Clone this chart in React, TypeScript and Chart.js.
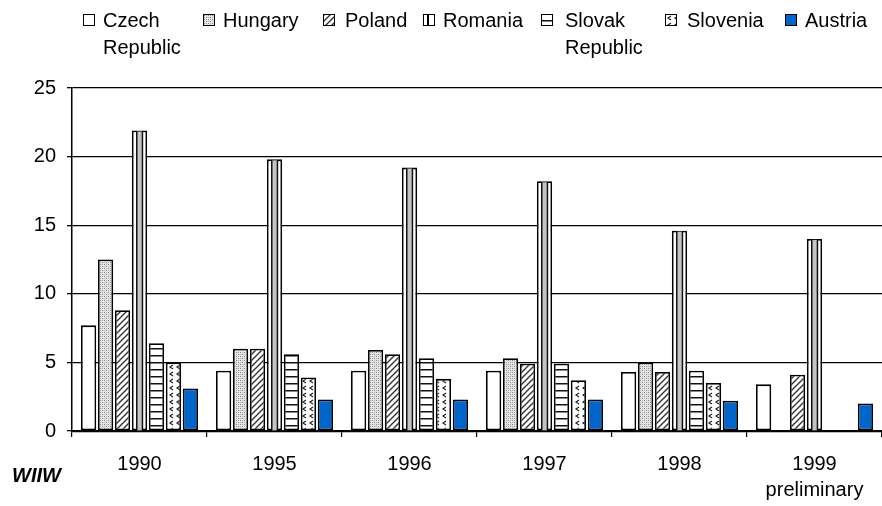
import React, { useEffect, useMemo, useRef } from "react";
import { Chart, registerables } from "chart.js";

Chart.register(...registerables);

const categories: (string | string[])[] = ["1990", "1995", "1996", "1997", "1998", ["1999", "preliminary"]];
const yTicks = [0, 5, 10, 15, 20, 25];

const czech = [7.7, 4.4, 4.4, 4.4, 4.3, 3.4];
const hungary = [12.5, 6.0, 5.9, 5.3, 5.0, null];
const poland = [8.8, 6.0, 5.6, 4.9, 4.3, 4.1];
const romania = [21.9, 19.8, 19.2, 18.2, 14.6, 14.0];
const slovak = [6.4, 5.6, 5.3, 4.9, 4.4, null];
const slovenia = [5.0, 3.9, 3.8, 3.7, 3.5, null];
const austria = [3.1, 2.3, 2.3, 2.3, 2.2, 2.0];

const FONT = "'Liberation Sans', Arial, sans-serif";

function makeTile(kind: string): HTMLCanvasElement {
  const c = document.createElement("canvas");
  const g = c.getContext("2d") as CanvasRenderingContext2D;
  if (kind === "dots") {
    c.width = 4; c.height = 4;
    g.fillStyle = "#e4e4e4"; g.fillRect(0, 0, 4, 4);
    g.fillStyle = "#8a8a8a"; g.fillRect(0, 0, 1, 1); g.fillRect(2, 2, 1, 1);
    g.fillStyle = "#b0b0b0"; g.fillRect(2, 0, 1, 1); g.fillRect(0, 2, 1, 1);
  } else if (kind === "diag") {
    c.width = 6; c.height = 6;
    g.fillStyle = "#fff"; g.fillRect(0, 0, 6, 6);
    g.strokeStyle = "#333"; g.lineWidth = 1.4;
    g.beginPath();
    g.moveTo(-1, 7); g.lineTo(7, -1);
    g.moveTo(-1, 1); g.lineTo(1, -1);
    g.moveTo(5, 7); g.lineTo(7, 5);
    g.stroke();
  } else if (kind === "horiz") {
    c.width = 4; c.height = 7;
    g.fillStyle = "#fff"; g.fillRect(0, 0, 4, 7);
    g.fillStyle = "#111"; g.fillRect(0, 5, 4, 1.5);
  } else if (kind === "wave") {
    c.width = 7; c.height = 7;
    g.fillStyle = "#fff"; g.fillRect(0, 0, 7, 7);
    g.strokeStyle = "#222"; g.lineWidth = 1.2;
    g.beginPath();
    g.moveTo(5, 1); g.lineTo(2, 3); g.lineTo(5, 5);
    g.stroke();
  } else {
    c.width = 2; c.height = 2;
    g.fillStyle = "#fff"; g.fillRect(0, 0, 2, 2);
  }
  return c;
}

const romaniaLines = {
  id: "romaniaLines",
  afterDatasetDraw(chart: any, args: any) {
    if (args.index !== 3) return;
    const ctx = chart.ctx;
    const meta = chart.getDatasetMeta(3);
    ctx.save();
    meta.data.forEach((el: any) => {
      const p = el.getProps(["x", "y", "base", "width"], true);
      if (p.y == null || isNaN(p.y)) return;
      const top = p.y + 1;
      const bot = p.base;
      ctx.fillStyle = "#c4c4c4";
      ctx.fillRect(p.x - 2.5, top, 5, bot - top);
      ctx.fillStyle = "#111";
      ctx.fillRect(p.x - 3.5, top, 1.5, bot - top);
      ctx.fillRect(p.x + 2.2, top, 1.5, bot - top);
    });
    ctx.restore();
  },
};

export default function App() {
  const ref = useRef<HTMLCanvasElement>(null);
  const tiles = useMemo(() => ({
    dots: makeTile("dots"),
    diag: makeTile("diag"),
    horiz: makeTile("horiz"),
    wave: makeTile("wave"),
  }), []);

  useEffect(() => {
    document.body.style.margin = "0";
    const canvas = ref.current as HTMLCanvasElement;
    const ctx = canvas.getContext("2d") as CanvasRenderingContext2D;
    const pat = (t: HTMLCanvasElement) => ctx.createPattern(t, "repeat") as CanvasPattern;
    const common = { borderColor: "#000", borderWidth: 1.8, borderSkipped: false as any };
    const chart = new Chart(canvas, {
      type: "bar",
      data: {
        labels: categories as any,
        datasets: [
          { label: "Czech Republic", data: czech, backgroundColor: "#ffffff", ...common },
          { label: "Hungary", data: hungary as any, backgroundColor: pat(tiles.dots), ...common },
          { label: "Poland", data: poland, backgroundColor: pat(tiles.diag), ...common },
          { label: "Romania", data: romania, backgroundColor: "#ffffff", ...common },
          { label: "Slovak Republic", data: slovak as any, backgroundColor: pat(tiles.horiz), ...common },
          { label: "Slovenia", data: slovenia as any, backgroundColor: pat(tiles.wave), ...common },
          { label: "Austria", data: austria, backgroundColor: "#0066cc", ...common },
        ],
      },
      options: {
        responsive: false,
        animation: false,
        devicePixelRatio: 1,
        layout: { padding: { top: 88, right: 0, left: 0, bottom: 0 } },
        datasets: { bar: { categoryPercentage: 0.88, barPercentage: 0.9 } },
        plugins: { legend: { display: false }, tooltip: { enabled: false } },
        scales: {
          x: {
            offset: true,
            grid: { display: true, drawOnChartArea: false, drawTicks: true, tickLength: 6, color: "#000", lineWidth: 1.2, offset: true },
            border: { display: true, color: "#000", width: 2.2 },
            ticks: { color: "#000", font: { family: FONT, size: 20, lineHeight: 1.3 }, padding: 14, maxRotation: 0, autoSkip: false },
            afterFit: (s: any) => { s.height = 506 - 431; },
          },
          y: {
            min: 0,
            max: 25,
            afterBuildTicks: (s: any) => { s.ticks = yTicks.map((v) => ({ value: v })); },
            grid: { color: "#000", lineWidth: 1.3, drawTicks: true, tickLength: 5 },
            border: { display: true, color: "#000", width: 1.5 },
            ticks: { color: "#000", font: { family: FONT, size: 20 }, padding: 11 },
            afterFit: (s: any) => { s.width = 72; },
          },
        },
      },
      plugins: [romaniaLines],
    });
    return () => chart.destroy();
  }, [tiles]);

  const boxBase: React.CSSProperties = {
    position: "absolute", top: 14, width: 10, height: 10, border: "1.5px solid #000", boxSizing: "content-box",
  };
  const textBase: React.CSSProperties = {
    position: "absolute", top: 7, fontFamily: FONT, fontSize: 20, lineHeight: "27px", color: "#000", whiteSpace: "nowrap",
  };
  const bgImg = (t: HTMLCanvasElement) => ({ backgroundImage: `url(${t.toDataURL()})` });

  const items: { bx: number; tx: number; text: React.ReactNode; style: React.CSSProperties }[] = [
    { bx: 83, tx: 103, text: <>Czech<br />Republic</>, style: { background: "#fff" } },
    { bx: 203, tx: 223, text: "Hungary", style: bgImg(tiles.dots) },
    { bx: 323, tx: 345, text: "Poland", style: bgImg(tiles.diag) },
    { bx: 423, tx: 443, text: "Romania", style: { background: "linear-gradient(to right, #fff 0, #fff 3px, #000 3px, #000 4.5px, #fff 4.5px)" } },
    { bx: 541, tx: 565, text: <>Slovak<br />Republic</>, style: bgImg(tiles.horiz) },
    { bx: 665, tx: 687, text: "Slovenia", style: bgImg(tiles.wave) },
    { bx: 785, tx: 805, text: "Austria", style: { background: "#0066cc" } },
  ];

  return (
    <div style={{ position: "fixed", left: 0, top: 0, width: 882, height: 506, background: "#fff", overflow: "hidden" }}>
      <canvas ref={ref} width={882} height={506} style={{ position: "absolute", left: 0, top: 0, width: 882, height: 506 }} />
      {items.map((it, i) => (
        <React.Fragment key={i}>
          <div style={{ ...boxBase, left: it.bx, ...it.style }} />
          <div style={{ ...textBase, left: it.tx }}>{it.text}</div>
        </React.Fragment>
      ))}
      <div style={{ position: "absolute", left: 12, top: 464, fontFamily: FONT, fontSize: 20, fontWeight: "bold", fontStyle: "italic", lineHeight: "22px", color: "#000" }}>WIIW</div>
    </div>
  );
}
